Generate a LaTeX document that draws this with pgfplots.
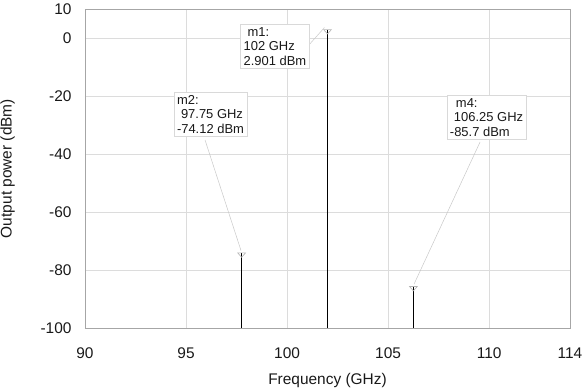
\documentclass[border=0pt]{standalone}
\usepackage{pgfplots}
\pgfplotsset{compat=1.18}
\usepackage{fontspec}
\setmainfont{Liberation Sans}
\definecolor{gridc}{HTML}{DCDCDC}
\definecolor{boxc}{HTML}{A6A6A6}
\definecolor{leadc}{HTML}{C8C8C8}
\definecolor{annb}{HTML}{D9D9D9}
\begin{document}
\begin{tikzpicture}
\begin{axis}[
  name=ax,
  scale only axis,
  width=485bp, height=319bp,
  xmin=90, xmax=114, ymin=-100, ymax=10,
  xtick={90,95,100,105,110,114},
  ytick={-100,-80,-60,-40,-20,0,10},
  major tick length=0pt,
  grid=major,
  major grid style={gridc, line width=0.6bp},
  axis line style={boxc, line width=0.8bp},
  tick label style={font=\fontsize{15.5}{18}\selectfont, text=black!90},
  /pgf/number format/assume math mode=true,
  xticklabel style={yshift=-16bp},
  yticklabel style={xshift=-10bp},
  xlabel={Frequency (GHz)},
  ylabel={Output power (dBm)},
  label style={font=\fontsize{15.5}{18}\selectfont, text=black!90},
  xlabel style={yshift=-8bp},
  ylabel style={yshift=19bp},
  clip=false,
]
\addplot[black, line width=1.6bp] coordinates {(102,-100) (102,2.901)};
\addplot[black, line width=1.6bp] coordinates {(97.75,-100) (97.75,-74.12)};
\addplot[black, line width=1.6bp] coordinates {(106.25,-100) (106.25,-85.7)};
\addplot[only marks, mark=triangle, mark size=4.5bp, gray!60, mark options={rotate=180, yscale=0.65, yshift=2.2bp, line width=0.6bp, fill=white}] coordinates {(102,2.901) (97.75,-74.12) (106.25,-85.7)};
% leader lines
\draw[leadc, line width=0.5bp] (axis cs:101.08,-2.41) -- (axis cs:101.85,3.6);
\draw[leadc, line width=0.5bp] (axis cs:95.94,-35.17) -- (axis cs:97.72,-73.3);
\draw[leadc, line width=0.5bp] (axis cs:109.55,-35.86) -- (axis cs:106.28,-84.9);
% annotation boxes
\tikzset{ann/.style={draw=annb, fill=white, line width=0.5bp, align=left, inner sep=3bp, font=\fontsize{13}{14.5}\selectfont, text=black!90}}
\node[ann] at (axis cs:99.40,-2.93) {\hspace*{4bp}m1:\\102 GHz\\2.901 dBm};
\node[ann] at (axis cs:96.21,-26.38) {m2:\\\hspace*{4bp}97.75 GHz\\-74.12 dBm};
\node[ann] at (axis cs:109.87,-27.41) {\hspace*{6bp}m4:\\\hspace*{4bp}106.25 GHz\\-85.7 dBm};
\end{axis}
\pgfresetboundingbox
\path (ax.south west)+(-85bp,-61bp) coordinate (bl);
\path (ax.north east)+(15bp,9bp) coordinate (tr);
\path[use as bounding box] (bl) rectangle (tr);
\end{tikzpicture}
\end{document}
